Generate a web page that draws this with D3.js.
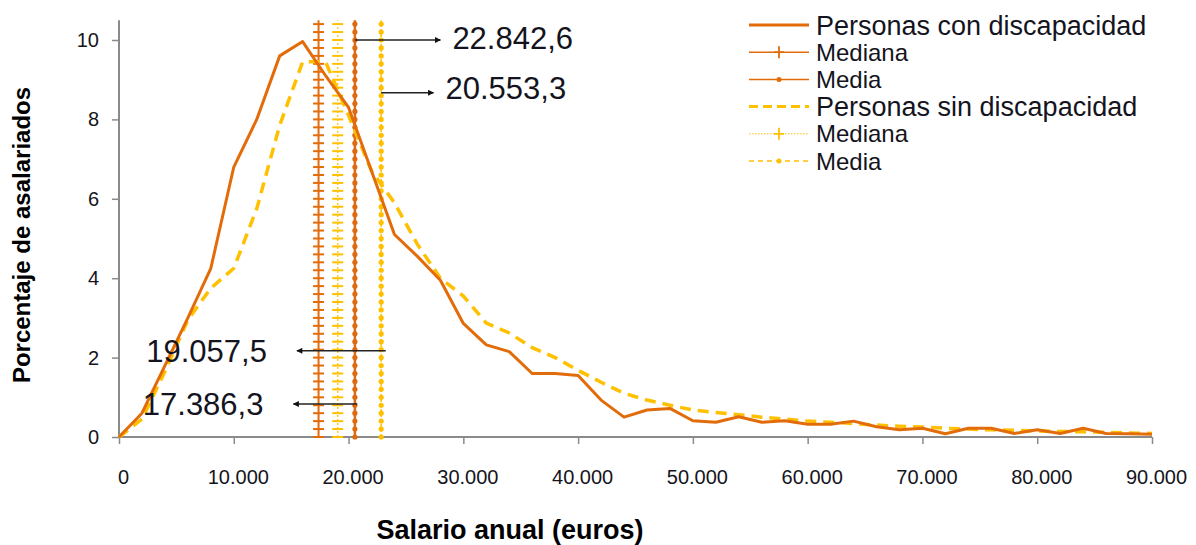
<!DOCTYPE html>
<html>
<head>
<meta charset="utf-8">
<script src="https://cdn.jsdelivr.net/npm/d3@7"></script>
<style>
  body { margin: 0; background: #fff; }
  text { font-family: "Liberation Sans", Arial, sans-serif; fill: #141420; }
</style>
</head>
<body>
<div id="chart"></div>
<script>
// salario anual (euros), cada 2.000
const salario = [0, 2000, 4000, 6000, 8000, 10000, 12000, 14000, 16000, 18000,
  20000, 22000, 24000, 26000, 28000, 30000, 32000, 34000, 36000, 38000,
  40000, 42000, 44000, 46000, 48000, 50000, 52000, 54000, 56000, 58000,
  60000, 62000, 64000, 66000, 68000, 70000, 72000, 74000, 76000, 78000,
  80000, 82000, 84000, 86000, 88000, 90000]

// porcentaje de asalariados
const conDiscapacidad = [0, 0.6, 1.8, 3.0, 4.25, 6.8, 8.0, 9.6, 9.96, 9.1,
  8.3, 6.7, 5.1, 4.55, 3.95, 2.86, 2.32, 2.15, 1.6, 1.6,
  1.55, 0.93, 0.5, 0.68, 0.72, 0.41, 0.37, 0.51, 0.37, 0.41,
  0.32, 0.32, 0.4, 0.26, 0.18, 0.22, 0.08, 0.22, 0.22, 0.09,
  0.18, 0.09, 0.22, 0.09, 0.08, 0.07]

const sinDiscapacidad = [0, 0.45, 1.65, 2.95, 3.75, 4.25, 5.75, 7.85, 9.45, 9.45,
  8.1, 6.7, 5.9, 4.85, 4.0, 3.55, 2.87, 2.62, 2.25, 2.0,
  1.68, 1.38, 1.1, 0.93, 0.8, 0.68, 0.62, 0.56, 0.5, 0.45,
  0.4, 0.37, 0.34, 0.3, 0.27, 0.25, 0.22, 0.2, 0.18, 0.17,
  0.15, 0.14, 0.13, 0.12, 0.1, 0.09]

// [con, sin]
const medianas = [17386.3, 19057.5]
const medias = [20553.3, 22842.6]

const xTicks = [0, 10000, 20000, 30000, 40000, 50000, 60000, 70000, 80000, 90000]
const yTicks = [0, 2, 4, 6, 8, 10]

const naranja = "#E36C0A"
const amarillo = "#FFC000"

const es = d3.formatLocale({decimal: ",", thousands: ".", grouping: [3], currency: ["", " €"]})
const fmtMiles = es.format(",d")
const fmtValor = es.format(",.1f")

function drawChart() {
    const width = 1196, height = 545

    const x = d3.scaleLinear().domain([0, 90000]).range([119, 1152])
    const y = d3.scaleLinear().domain([0, 10]).range([437, 40])
    const yTop = 10.5

    const svg = d3.select('#chart')
        .append('svg')
        .attr("width", width)
        .attr("height", height)

    // ejes
    const xAxis = svg.append("g")
        .attr("transform", `translate(0,${y(0)})`)
        .call(d3.axisBottom(x).tickValues(xTicks).tickFormat(fmtMiles).tickSize(7).tickSizeOuter(0))
    xAxis.select(".domain").remove()
    xAxis.selectAll("line").attr("stroke", "#8a8a8a").attr("stroke-width", 1.5)
    xAxis.selectAll("text")
        .attr("dy", 0).attr("y", 47).attr("dx", 4)
        .style("font-size", "20px")

    const yAxis = svg.append("g")
        .attr("transform", `translate(${x(0)},0)`)
        .call(d3.axisLeft(y).tickValues(yTicks).tickSize(7).tickSizeOuter(0))
    yAxis.select(".domain").remove()
    yAxis.selectAll("line").attr("stroke", "#8a8a8a").attr("stroke-width", 1.5)
    yAxis.selectAll("text")
        .attr("x", -20)
        .style("font-size", "20px")

    svg.append("line")
        .attr("x1", x(0)).attr("x2", x(90000))
        .attr("y1", y(0)).attr("y2", y(0))
        .attr("stroke", "#8a8a8a").attr("stroke-width", 2)
    svg.append("line")
        .attr("x1", x(0)).attr("x2", x(0))
        .attr("y1", y(0)).attr("y2", y(yTop))
        .attr("stroke", "#8a8a8a").attr("stroke-width", 2)

    // lineas verticales (mediana y media)
    const marcas = d3.range(0, yTop + 0.01, 0.2)
    const vLines = [
        {v: medianas[0], color: naranja, w: 2, dash: null, marker: "cross"},
        {v: medianas[1], color: amarillo, w: 1.2, dash: "2,2", marker: "cross"},
        {v: medias[0], color: "#DD6A12", w: 2.5, dash: null, marker: "dot"},
        {v: medias[1], color: amarillo, w: 1.5, dash: "3,2", marker: "dot"}
    ]
    vLines.forEach(l => {
        const g = svg.append("g")
        g.append("line")
            .attr("x1", x(l.v)).attr("x2", x(l.v))
            .attr("y1", y(0)).attr("y2", y(yTop))
            .attr("stroke", l.color).attr("stroke-width", l.w)
            .attr("stroke-dasharray", l.dash)
        if (l.marker == "cross") {
            g.selectAll("line.m")
                .data(marcas)
                .enter().append("line")
                .attr("class", "m")
                .attr("x1", x(l.v) - 5.5).attr("x2", x(l.v) + 5.5)
                .attr("y1", d => y(d)).attr("y2", d => y(d))
                .attr("stroke", l.color).attr("stroke-width", 2)
        } else {
            g.selectAll("circle")
                .data(marcas)
                .enter().append("circle")
                .attr("cx", x(l.v)).attr("cy", d => y(d))
                .attr("r", 2.6)
                .attr("fill", l.color)
        }
    })

    // curvas
    const line = d3.line()
        .x((d, i) => x(salario[i]))
        .y(d => y(d))

    svg.append("path")
        .datum(sinDiscapacidad)
        .attr("fill", "none")
        .attr("stroke", amarillo)
        .attr("stroke-width", 3.5)
        .attr("stroke-dasharray", "11,7")
        .attr("d", line)

    svg.append("path")
        .datum(conDiscapacidad)
        .attr("fill", "none")
        .attr("stroke", naranja)
        .attr("stroke-width", 3)
        .attr("stroke-linejoin", "round")
        .attr("d", line)

    // flechas
    svg.append("defs").append("marker")
        .attr("id", "flecha")
        .attr("viewBox", "0 0 10 10")
        .attr("refX", 9).attr("refY", 5)
        .attr("markerWidth", 9).attr("markerHeight", 6)
        .attr("markerUnits", "userSpaceOnUse")
        .attr("orient", "auto")
        .append("path")
        .attr("d", "M0,0L10,5L0,10Z")
        .attr("fill", "#111")

    const notas = [
        {desde: medias[0], hasta: 28000, yv: 10.0, dyv: 0.05, texto: fmtValor(medias[1]), lado: "der"},
        {desde: medias[1], hasta: 27400, yv: 8.67, dyv: 0.12, texto: fmtValor(medias[0]), lado: "der"},
        {desde: medias[1] + 400, hasta: 15500, yv: 2.17, dyv: 0, texto: fmtValor(medianas[1]), lado: "izq"},
        {desde: medias[0] + 200, hasta: 15200, yv: 0.83, dyv: 0, texto: fmtValor(medianas[0]), lado: "izq"}
    ]
    notas.forEach(n => {
        svg.append("line")
            .attr("x1", x(n.desde)).attr("x2", x(n.hasta))
            .attr("y1", y(n.yv)).attr("y2", y(n.yv))
            .attr("stroke", "#222").attr("stroke-width", 1.5)
            .attr("marker-end", "url(#flecha)")
        svg.append("text")
            .attr("x", n.lado == "der" ? x(n.hasta) + 12 : x(n.hasta) - 30)
            .attr("y", y(n.yv + n.dyv))
            .attr("dy", "0.35em")
            .attr("text-anchor", n.lado == "der" ? "start" : "end")
            .style("font-size", "31px")
            .text(n.texto)
    })

    // leyenda
    const leyenda = [
        {t: "Personas con discapacidad", color: naranja, w: 3, dash: null, marker: null, big: true},
        {t: "Mediana", color: naranja, w: 1.5, dash: null, marker: "cross"},
        {t: "Media", color: naranja, w: 1.5, dash: null, marker: "dot"},
        {t: "Personas sin discapacidad", color: amarillo, w: 3, dash: "9,5", marker: null, big: true},
        {t: "Mediana", color: amarillo, w: 1, dash: "1.5,1.5", marker: "cross"},
        {t: "Media", color: amarillo, w: 1.5, dash: "5,4", marker: "dot"}
    ]
    const lg = svg.append("g").attr("transform", "translate(749,25)")
    leyenda.forEach((d, i) => {
        const gy = i * 27.2
        lg.append("line")
            .attr("x1", 0).attr("x2", 60)
            .attr("y1", gy).attr("y2", gy)
            .attr("stroke", d.color).attr("stroke-width", d.w)
            .attr("stroke-dasharray", d.dash)
        if (d.marker == "cross") {
            lg.append("path")
                .attr("d", `M25,${gy}h10M30,${gy - 6}v12`)
                .attr("stroke", d.color).attr("stroke-width", 1.8)
        } else if (d.marker == "dot") {
            lg.append("circle")
                .attr("cx", 30).attr("cy", gy).attr("r", 2.5)
                .attr("fill", d.color)
        }
        lg.append("text")
            .attr("x", 67).attr("y", gy)
            .attr("dy", "0.36em")
            .style("font-size", d.big ? "27px" : "24px")
            .text(d.t)
    })

    // titulos de ejes
    svg.append("text")
        .attr("x", 510).attr("y", 539)
        .attr("text-anchor", "middle")
        .style("font-size", "27px").style("font-weight", "bold")
        .style("fill", "#000")
        .text("Salario anual (euros)")

    svg.append("text")
        .attr("transform", "translate(30,235) rotate(-90)")
        .attr("text-anchor", "middle")
        .style("font-size", "24px").style("font-weight", "bold")
        .style("fill", "#000")
        .text("Porcentaje de asalariados")

    return svg.node()
}

drawChart()
</script>
</body>
</html>
